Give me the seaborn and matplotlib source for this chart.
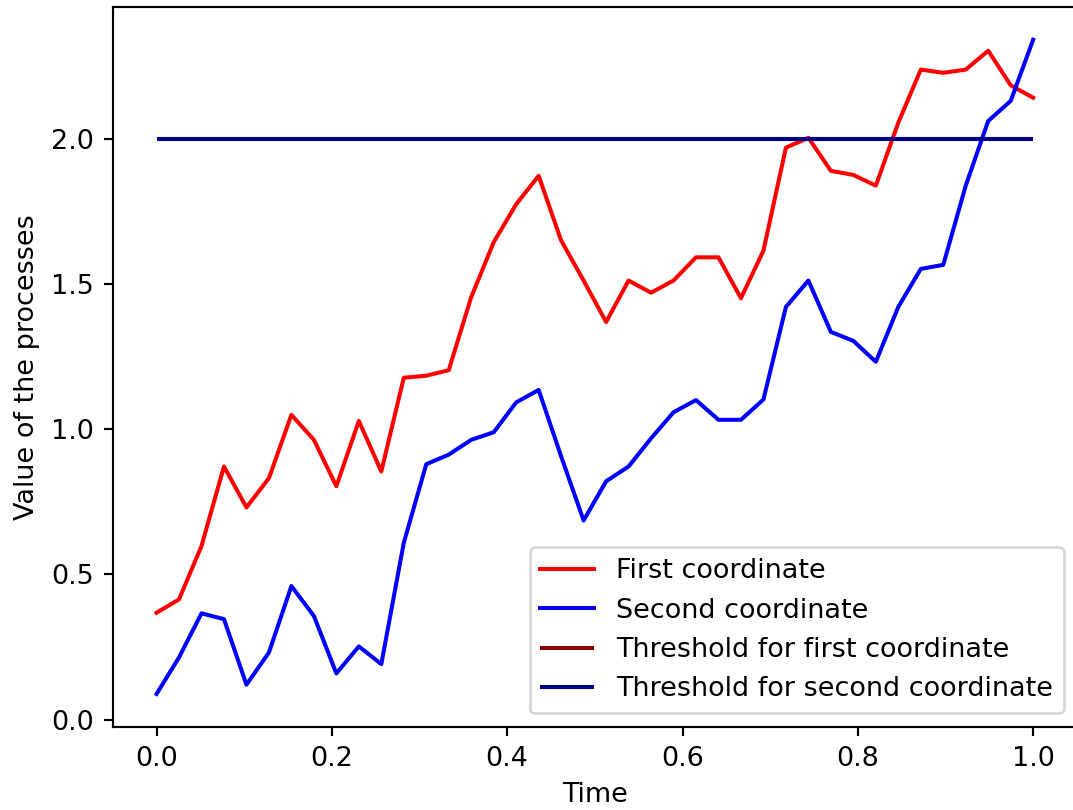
import numpy as np
import pandas as pd
import matplotlib
matplotlib.use("Agg")
import matplotlib.pyplot as plt
import seaborn as sns

time = np.linspace(0, 1, 40)
first = [0.368, 0.414, 0.598, 0.872, 0.731, 0.832, 1.050, 0.964, 0.804, 1.029,
         0.855, 1.178, 1.185, 1.204, 1.456, 1.645, 1.776, 1.874, 1.651, 1.513,
         1.370, 1.513, 1.471, 1.513, 1.593, 1.593, 1.452, 1.616, 1.971, 2.005,
         1.891, 1.877, 1.840, 2.057, 2.240, 2.229, 2.240, 2.305, 2.186, 2.143]
second = [0.088, 0.214, 0.366, 0.346, 0.120, 0.231, 0.460, 0.357, 0.159, 0.252,
          0.191, 0.609, 0.880, 0.913, 0.964, 0.990, 1.093, 1.136, 0.907, 0.686,
          0.821, 0.872, 0.969, 1.059, 1.101, 1.033, 1.033, 1.103, 1.422, 1.513,
          1.336, 1.305, 1.233, 1.422, 1.553, 1.567, 1.840, 2.063, 2.132, 2.343]
threshold_first = 2.0
threshold_second = 2.0

dpi = 194
fig = plt.figure(figsize=(1073 / dpi, 810 / dpi), dpi=dpi)
ax = fig.add_axes([112.7 / 1073, 1 - 726.7 / 810, (1077 - 112.7) / 1073, (726.7 - 7) / 810])

df = pd.DataFrame({"Time": time, "first": first, "second": second})
sns.lineplot(data=df, x="Time", y="first", color="red", label="First coordinate", ax=ax)
sns.lineplot(data=df, x="Time", y="second", color="blue", label="Second coordinate", ax=ax)
ax.hlines(threshold_first, time[0], time[-1], color="darkred", linewidth=1.5,
          label="Threshold for first coordinate")
ax.hlines(threshold_second, time[0], time[-1], color="darkblue", linewidth=1.5,
          label="Threshold for second coordinate")

ax.set_xlabel("Time")
ax.set_ylabel("Value of the processes")
ax.set_xticks([0.0, 0.2, 0.4, 0.6, 0.8, 1.0])
ax.set_yticks([0.0, 0.5, 1.0, 1.5, 2.0])
ax.legend(loc="lower right")

fig.savefig("out.png", dpi=dpi)
